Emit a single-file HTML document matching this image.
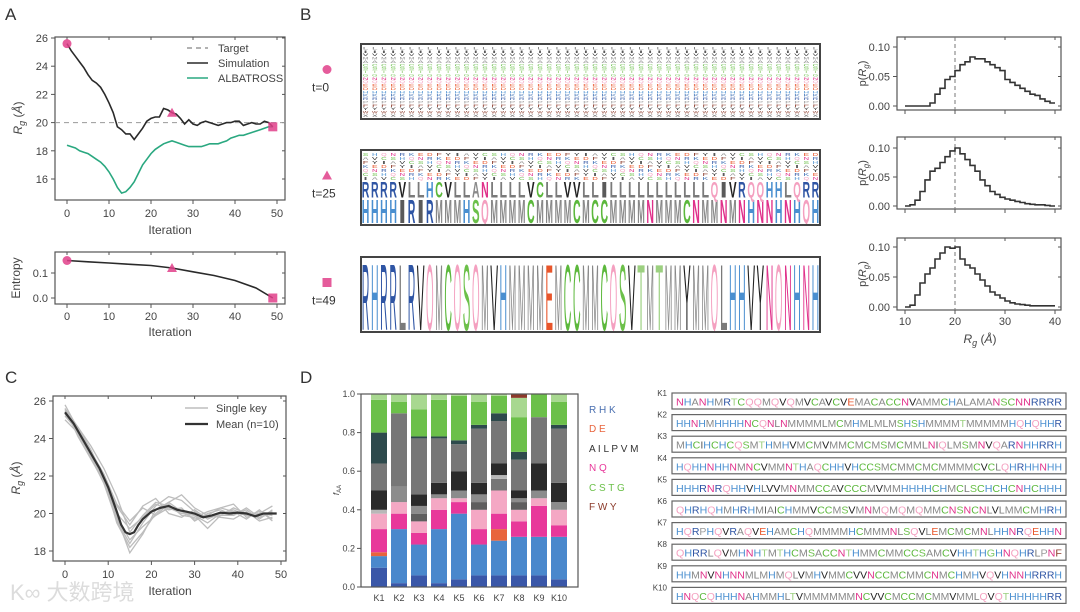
<!DOCTYPE html>
<html><head><meta charset="utf-8"><style>
html,body{margin:0;padding:0;background:#fff;}
svg{display:block;font-family:"Liberation Sans","Noto Sans CJK SC",sans-serif;}
</style></head><body>
<svg id="fig" width="1080" height="612" viewBox="0 0 1080 612" xmlns="http://www.w3.org/2000/svg"></svg>
<script>
// ---------- DATA ----------
const iters = Array.from({length:50},(_, i)=>i);
const simRg = [25.6,25.1,24.7,24.3,23.9,23.4,23.0,22.8,22.5,22.0,21.4,20.7,19.7,19.5,19.2,19.2,18.8,19.2,19.6,20.1,20.3,20.4,20.4,21.0,20.9,20.7,20.6,20.3,19.9,20.2,19.9,19.8,20.0,20.1,20.0,19.9,19.8,19.9,20.0,20.0,20.1,20.1,19.8,19.9,20.0,19.9,19.9,20.1,20.0,19.7];
const albRg = [18.4,18.3,18.2,18.0,17.9,17.8,17.6,17.4,17.2,16.9,16.5,16.0,15.4,15.0,15.1,15.4,15.8,16.4,17.0,17.4,17.8,18.1,18.3,18.5,18.6,18.7,18.6,18.5,18.4,18.3,18.3,18.3,18.3,18.4,18.5,18.5,18.5,18.6,18.7,18.9,19.0,19.1,19.1,19.2,19.3,19.4,19.5,19.6,19.7,19.7];
const targetRg = [20];
const entIters = [0,5,10,15,20,25,30,35,40,45,49];
const entropy = [0.15,0.145,0.14,0.135,0.13,0.12,0.105,0.09,0.07,0.04,0.0];
const markIters = [0,25,49];
const rgTicks = [16,18,20,22,24,26];
const iterTicks = [0,10,20,30,40,50];
const entTicks = [0.0,0.1];

const cIters = [0,3,6,9,12,15,18,21,24,27,30,33,36,39,42,45,48];
const key1 = [25.6,24.6,23.6,22.4,20.9,19.0,19.9,20.6,20.4,20.1,19.7,19.9,20.3,20.1,19.9,20.0,19.9];
const key2 = [25.3,24.3,23.0,21.6,19.6,18.4,19.5,20.4,20.9,20.7,20.1,19.8,19.9,20.3,20.0,19.8,20.1];
const key3 = [25.8,24.5,23.3,22.0,20.4,19.4,20.4,20.8,20.0,19.8,20.2,19.7,20.0,20.1,19.7,20.2,19.6];
const key4 = [25.5,24.2,23.1,21.8,19.8,18.6,19.3,19.9,20.3,20.0,19.9,19.2,19.9,19.9,20.2,19.7,20.2];
const key5 = [25.2,24.4,23.3,22.1,20.5,19.6,20.3,19.9,20.5,19.9,19.8,20.1,20.3,20.5,19.8,20.0,20.4];
const key6 = [25.4,24.6,23.4,21.9,19.5,18.2,19.0,20.0,20.6,21.0,20.3,19.9,19.8,19.7,20.1,19.6,19.8];
const key7 = [25.6,24.1,22.9,21.7,20.0,19.2,19.8,20.5,20.2,20.3,19.6,20.0,20.2,19.9,20.3,19.8,20.0];
const key8 = [25.0,24.3,23.2,22.0,19.8,17.9,18.9,20.2,20.6,20.1,19.9,19.5,20.0,20.2,19.9,20.1,19.7];
const meanIters = [0,2,4,6,8,10,12,13,14,15,16,17,18,20,22,24,26,28,30,32,34,36,38,40,42,44,46,48,49];
const meanRg = [25.4,24.8,24.0,23.2,22.4,21.4,20.1,19.4,19.0,18.9,19.0,19.4,19.7,20.1,20.3,20.4,20.2,20.1,20.0,19.8,19.9,20.05,20.0,20.05,20.0,19.85,20.0,20.0,20.0];
const cRgTicks = [18,20,22,24,26];

const histBins = [10,11,12,13,14,15,16,17,18,19,20,21,22,23,24,25,26,27,28,29,30,31,32,33,34,35,36,37,38,39];
const histT0 = [0,0,0,0,0,0.005,0.02,0.03,0.045,0.05,0.06,0.07,0.075,0.083,0.08,0.08,0.075,0.07,0.065,0.06,0.045,0.04,0.035,0.03,0.025,0.02,0.018,0.012,0.008,0.005];
const histT25 = [0,0.002,0.01,0.025,0.045,0.06,0.065,0.075,0.085,0.095,0.1,0.09,0.08,0.07,0.06,0.045,0.035,0.025,0.02,0.015,0.012,0.01,0.008,0.006,0.004,0.003,0.002,0.002,0.001,0];
const histT49 = [0,0.003,0.02,0.04,0.055,0.065,0.08,0.09,0.1,0.098,0.1,0.08,0.07,0.065,0.055,0.045,0.035,0.025,0.02,0.015,0.01,0.007,0.005,0.004,0.003,0.002,0.002,0.002,0.002,0.002];
const histYTicks = [0,0.05,0.10];
const histXTicks = [10,20,30,40];

const barCats = ['K1','K2','K3','K4','K5','K6','K7','K8','K9','K10'];
const barK1 = [['db',.10],['bl',.06],['or',.02],['mg',.12],['pk',.08],['lg',.02],['bk',.10],['mgy',.14],['te',.16],['gr',.17],['lgr',.03]];
const barK2 = [['db',.02],['bl',.28],['mg',.08],['pk',.06],['gy',.08],['mgy',.38],['gr',.06],['lgr',.04]];
const barK3 = [['db',.06],['bl',.16],['mg',.06],['pk',.06],['dg',.04],['gy',.04],['bk',.06],['mgy',.29],['te',.01],['gr',.14],['lgr',.08]];
const barK4 = [['db',.02],['bl',.28],['mg',.10],['pk',.06],['gy',.02],['bk',.06],['mgy',.23],['te',.01],['gr',.19],['lgr',.03]];
const barK5 = [['db',.04],['bl',.34],['mg',.06],['pk',.02],['gy',.04],['bk',.10],['mgy',.14],['te',.02],['gr',.23],['lgr',.01]];
const barK6 = [['db',.06],['bl',.16],['mg',.08],['pk',.10],['dg',.04],['gy',.04],['bk',.06],['mgy',.28],['te',.02],['gr',.12],['lgr',.04]];
const barK7 = [['db',.06],['bl',.18],['or',.06],['mg',.08],['pk',.12],['mgy',.06],['lg',.02],['bk',.06],['mgy',.22],['te',.04],['gr',.09],['lgr',.01]];
const barK8 = [['db',.06],['bl',.20],['mg',.08],['pk',.06],['dg',.04],['gy',.02],['bk',.04],['mgy',.16],['te',.04],['gr',.18],['lgr',.10],['br',.02]];
const barK9 = [['db',.06],['bl',.20],['mg',.16],['pk',.04],['gy',.04],['bk',.14],['mgy',.24],['gr',.12]];
const barK10 = [['db',.04],['bl',.22],['mg',.06],['pk',.08],['gy',.04],['bk',.10],['mgy',.28],['te',.02],['gr',.12],['lgr',.04]];
const barSegs = [barK1,barK2,barK3,barK4,barK5,barK6,barK7,barK8,barK9,barK10];
const barTicks = [0,0.2,0.4,0.6,0.8,1.0];

const seqK = [
'NHANHMRTCQQMQVQMVCAVCVEMACACCNVAMMCHALAMANSCNNRRRR',
'HHNHMHHHHNCQNLNMMMMLMCMHMLMLMSHSHMMMMTMMMMMHQHQHHR',
'MHCIHCHCQSMTHMHVMCMVMMCMCMSMCMMLNIQLMSMNVQARNHHRRH',
'HQHHNHHNMNCVMMNTHAQCHHVHCCSMCMMCMCMMMMCVCLQHRHHNHH',
'HHHRNRQHHVHLVVMNMMCCAVCCCMVMMHHHHCHMCLSCHCHCNHCHHH',
'QHRHQHMHRHMIAICHMMVCCMSVMNMQMQMQMMCNSNCNLVLMMCMHRH',
'HQRPHQVRAQVEHAMCHQMMMMHCMMMNLSQVLEMCMCMNLHHNRQEHHN',
'QHRRLQVMHNHTMTHCMSACCNTHMMCMMCCSAMCVHHTHGHNQHRLPNF',
'HHMNVNHNNMLMHMQLVMHVMMCVVNCCMCMMCNMCHMHVQVHNNHRRRH',
'HNQCQHHHNAHMMHLTVMMMMMMNCVVCMCCMCMMVMMLQVQTHHHHHRR'];
const t25Bottom = 'HHHHIRIRMMMHSQMMMMCMMMMCMCCMMMMNMMMCNMMNMNHNNHNHQH';
const t25Second = 'RRRRVLLHCVLLANLLLLVCLLVVLLILLLLLLLLLLLQIVRQQHHLQRR';
const t49Seq = 'RHRRLRVQMCQSQMVHMMMMEMCCMMCQSVTMTMMYMMQLHHVYNQNHNH';

// ---------- HELPERS ----------
const NS='http://www.w3.org/2000/svg';
const svg=document.getElementById('fig');
function mk(tag,attrs,parent){const e=document.createElementNS(NS,tag);for(const k in attrs)e.setAttribute(k,attrs[k]);(parent||svg).appendChild(e);return e;}
function lin(d0,d1,r0,r1){return v=>r0+(v-d0)*(r1-r0)/(d1-d0);}
function txt(x,y,s,opt,parent){const t=mk('text',Object.assign({x:x,y:y,'font-size':11,fill:'#444'},opt||{}),parent);t.textContent=s;return t;}
const AA_COL={R:'#2f55a4',H:'#4a8fd0',K:'#3b6fb5',D:'#e8552a',E:'#e8552a',A:'#8a8a8a',I:'#5a5a5a',L:'#7a7a7a',P:'#9a9a9a',V:'#222',M:'#888',N:'#e0308a',Q:'#f4a0c0',C:'#5cb83c',S:'#6cc04a',T:'#9cd080',G:'#7cc860',F:'#8b3a2a',W:'#8b3a2a',Y:'#222',X:'#555'};
const SEG_COL={db:'#3a57a8',bl:'#4a88cc',or:'#e8643c',mg:'#e8389a',pk:'#f4a8c4',lg:'#b8b8b8',gy:'#8c8c8c',dg:'#5e5e5e',bk:'#2a2a2a',mgy:'#777',te:'#2e4a4c',gr:'#6cc04a',lgr:'#a8d890',br:'#8b3a2a'};
const MARK='#e0408a';
const defs=mk('defs',{});

function frame(x0,y0,x1,y1,name){const r=mk('rect',{x:x0,y:y0,width:x1-x0,height:y1-y0,fill:'none',stroke:'#555','stroke-width':1.2});

return r;}
function yTicks(ticks,ys,x0,x1,fmt,name){ticks.forEach(v=>{const y=ys(v);
const l=mk('line',{x1:x0-4,y1:y,x2:x0,y2:y,stroke:'#555'});


const l2=mk('line',{x1:x1-3,y1:y,x2:x1,y2:y,stroke:'#555'});


const t=txt(x0-7,y+4,fmt(v),{'text-anchor':'end'});

});}
function xTicks(ticks,xs,y0,y1,ly,fmt,name){ticks.forEach(v=>{const x=xs(v);
const l=mk('line',{x1:x,y1:y1,x2:x,y2:y1+4,stroke:'#555'});


const l2=mk('line',{x1:x,y1:y0,x2:x,y2:y0+3,stroke:'#555'});


if(ly!==null){const t=txt(x,ly,fmt(v),{'text-anchor':'middle'});

}});}
function pathOf(xsArr,ysArr,xs,ys){return xsArr.map((v,i)=>(i?'L':'M')+xs(v).toFixed(1)+','+ys(ysArr[i]).toFixed(1)).join('');}
function rgLabel(x,y){const t=mk('text',{x:0,y:0,'font-size':12,fill:'#444','text-anchor':'middle',transform:`translate(${x},${y}) rotate(-90)`});
t.innerHTML='<tspan font-style="italic">R</tspan><tspan font-style="italic" font-size="9" dy="3">g</tspan><tspan dy="-3"> (</tspan><tspan font-style="italic">Å</tspan><tspan>)</tspan>';return t;}
function marker(kind,cx,cy,name){let e;
if(kind===0)e=mk('circle',{cx:cx,cy:cy,r:4.5,fill:MARK,opacity:.85});
else if(kind===1)e=mk('polygon',{points:`${cx},${cy-5} ${cx-5},${cy+4} ${cx+5},${cy+4}`,fill:MARK,opacity:.85});
else e=mk('rect',{x:cx-4.5,y:cy-4.5,width:9,height:9,fill:MARK,opacity:.85});

return e;}

// ---------- PANEL LABELS ----------
[['A',5,20],['B',300,20],['C',5,383],['D',300,383]].forEach(p=>{const t=txt(p[1],p[2],p[0],{'font-size':17,fill:'#333'});

});

// ---------- PANEL A ----------
{const xs=lin(0,50,67,277), ys=lin(16,26,179,38);
frame(55,37,285,200,'panel-a-rg-frame');
yTicks(rgTicks,ys,55,285,v=>String(v),'panel-a-y');
xTicks(iterTicks,xs,37,200,217,v=>String(v),'panel-a-x');
const xl=txt(170,234,'Iteration',{'text-anchor':'middle','font-size':12});


const yl=rgLabel(22,118);


const tg=mk('line',{x1:55,x2:285,y1:ys(targetRg[0]),y2:ys(targetRg[0]),stroke:'#999','stroke-dasharray':'5,4'});


const al=mk('path',{d:pathOf(iters,albRg,xs,ys),fill:'none',stroke:'#2aa880','stroke-width':1.6});


const sm=mk('path',{d:pathOf(iters,simRg,xs,ys),fill:'none',stroke:'#2a2a2a','stroke-width':1.6});


markIters.forEach((it,k)=>marker(k,xs(it),ys(simRg[it]),'rg-marker-t'+it));
const lg=[['Target','#999','5,4',52],['Simulation','#2a2a2a','',67],['ALBATROSS','#2aa880','',82]];
lg.forEach(e=>{const l=mk('line',{x1:187,x2:208,y1:e[3]-4,y2:e[3]-4,stroke:e[1],'stroke-width':1.6,'stroke-dasharray':e[2]});


const t=txt(218,e[3],e[0],{'font-size':11});

});}
{const xs=lin(0,50,67,277), ys=lin(0,0.1,298,273);
frame(55,252,285,304,'panel-a-entropy-frame');
yTicks(entTicks,ys,55,285,v=>v.toFixed(1),'entropy-y');
xTicks(iterTicks,xs,252,304,320,v=>String(v),'entropy-x');
const xl=txt(170,336,'Iteration',{'text-anchor':'middle','font-size':12});


const yl=txt(0,0,'Entropy',{'text-anchor':'middle','font-size':12,transform:'translate(20,278) rotate(-90)'});


const en=mk('path',{d:pathOf(entIters,entropy,xs,ys),fill:'none',stroke:'#2a2a2a','stroke-width':1.6});


markIters.forEach((it,k)=>{const j=entIters.indexOf(it);let v=j>=0?entropy[j]:0.12;marker(k,xs(it),ys(v),'entropy-marker-t'+it);});}

// ---------- PANEL B: LOGOS ----------
const LX0=361,LX1=820,colW=(LX1-LX0)/50;
function bigLetter(ch,x,yb,h,w,g,name,bold){const sy=h/7.16;const t=mk('text',{x:0,y:0,'font-size':10,'font-weight':bold?'bold':'normal',fill:AA_COL[ch]||'#555',textLength:w,lengthAdjust:'spacingAndGlyphs',transform:`translate(${x.toFixed(2)},${yb.toFixed(2)}) scale(1,${sy.toFixed(3)})`},g);t.textContent=ch;

return t;}
[['t=0',44,119,0],['t=25',150,225,1],['t=49',257,332,2]].forEach(b=>{
const cp=mk('clipPath',{id:'clip'+b[3]},defs);
mk('rect',{x:LX0,y:b[1],width:LX1-LX0,height:b[2]-b[1]},cp);
const g=mk('g',{'clip-path':'url(#clip'+b[3]+')'});


const mcy=(b[1]+b[2])/2-12;marker(b[3],327,mcy,'logo-marker-'+b[0].replace('=',''));
const lt=txt(312,mcy+22,b[0],{'font-size':12,fill:'#333'});


const bottom=b[2]-2, H=b[2]-b[1]-4;
for(let c=0;c<50;c++){const x=LX0+c*colW+0.8,w=colW-1.6;
 if(b[3]===0){const order='XWYFPRKHDEQNGTSCAMVIL';let y=bottom;const hh=H/order.length;
  for(let k=0;k<order.length;k++){bigLetter(order[k],x+1,y,hh*0.7,w-2,g,'logo-t0-letter',false);y-=hh;}}
 else if(b[3]===1){let y=bottom;const h1=H*0.34,h2=H*0.22;
  bigLetter(t25Bottom[c],x,y,h1,w,g,'logo-t25-letter',true);y-=h1+1.5;
  bigLetter(t25Second[c],x,y,h2,w,g,'logo-t25-letter',true);y-=h2+1.5;
  const rest='IAVCSHQNRKEDFY';const hh=(y-b[1]-2)/7;
  for(let k=0;k<7;k++){bigLetter(rest[(c+k*3)%rest.length],x+1,y,hh*0.75,w-2,g,'logo-t25-letter',false);y-=hh;}}
 else{bigLetter(t49Seq[c],x,bottom,H-4,w,g,'logo-t49-letter',false);}}
const fr=mk('rect',{x:LX0,y:b[1],width:LX1-LX0,height:b[2]-b[1],fill:'none',stroke:'#444','stroke-width':2});

});

// ---------- PANEL B: HISTOGRAMS ----------
[[histT0,37,110,47,106],[histT25,137,209,148,206],[histT49,238,310,247,307]].forEach((h,k)=>{
const xs=lin(10,40,905,1055), ys=lin(0,0.1,h[4],h[3]);
frame(897,h[1],1061,h[2],'hist-frame-'+k);
yTicks(histYTicks,ys,897,1061,v=>v.toFixed(2),'hist-'+k+'-y');
xTicks(histXTicks,xs,h[1],h[2],k===2?325:null,v=>String(v),'hist-'+k+'-x');
const dl=mk('line',{x1:xs(20),x2:xs(20),y1:h[1],y2:h[2],stroke:'#777','stroke-dasharray':'4,3'});


let d='';h[0].forEach((v,i)=>{const x0=xs(histBins[i]),x1=xs(histBins[i]+1),y=ys(v);d+=(i?'L':'M')+x0.toFixed(1)+','+y.toFixed(1)+'L'+x1.toFixed(1)+','+y.toFixed(1);});
const p=mk('path',{d:d,fill:'none',stroke:'#333','stroke-width':1.6});


const yl=mk('text',{x:0,y:0,'font-size':11,fill:'#444','text-anchor':'middle',transform:`translate(866,${(h[1]+h[2])/2}) rotate(-90)`});
yl.innerHTML='p(<tspan font-style="italic">R</tspan><tspan font-style="italic" font-size="8" dy="3">g</tspan><tspan dy="-3">)</tspan>';

});
{const t=mk('text',{x:980,y:343,'font-size':12,fill:'#444','text-anchor':'middle'});
t.innerHTML='<tspan font-style="italic">R</tspan><tspan font-style="italic" font-size="9" dy="3">g</tspan><tspan dy="-3"> (</tspan><tspan font-style="italic">Å</tspan>)';

}

// ---------- PANEL C ----------
{const xs=lin(0,50,65,281), ys=lin(18,26,551,401);
frame(53,396,286,561,'panel-c-frame');
yTicks(cRgTicks,ys,53,286,v=>String(v),'panel-c-y');
xTicks(iterTicks,xs,396,561,578,v=>String(v),'panel-c-x');
const xl=txt(170,595,'Iteration',{'text-anchor':'middle','font-size':12});


const yl=rgLabel(20,478);


[key1,key2,key3,key4,key5,key6,key7,key8].forEach((k,i)=>{const p=mk('path',{d:pathOf(cIters,k,xs,ys),fill:'none',stroke:'#bdbdbd','stroke-width':1.3});

});
const m=mk('path',{d:pathOf(meanIters,meanRg,xs,ys),fill:'none',stroke:'#333','stroke-width':2.2});


[['Single key','#bdbdbd',1.5,412],['Mean (n=10)','#333',2.2,428]].forEach(e=>{const l=mk('line',{x1:185,x2:208,y1:e[3]-4,y2:e[3]-4,stroke:e[1],'stroke-width':e[2]});


const t=txt(216,e[3],e[0],{'font-size':11});

});
const wm=txt(10,600,'K∞ 大数跨境',{'font-size':22,fill:'#dcdcdc'});

}

// ---------- PANEL D: BARS ----------
{const ys=lin(0,1,587,394), xc=i=>379+i*20;
barSegs.forEach((segs,i)=>{let acc=0;segs.forEach(s=>{const r=mk('rect',{x:xc(i)-8,y:ys(acc+s[1]),width:16,height:ys(acc)-ys(acc+s[1]),fill:SEG_COL[s[0]]});

acc+=s[1];});
const t=txt(xc(i),601,barCats[i],{'text-anchor':'middle','font-size':9});

});
frame(361,394,578,587,'bar-frame');
barTicks.forEach(v=>{const y=ys(v);const l=mk('line',{x1:357,x2:361,y1:y,y2:y,stroke:'#555'});


const t=txt(355,y+3,v.toFixed(1),{'text-anchor':'end','font-size':9});

});
const yl=mk('text',{x:0,y:0,'font-size':8,fill:'#444','text-anchor':'middle',transform:'translate(339,490) rotate(-90)'});
yl.innerHTML='<tspan font-style="italic">f</tspan><tspan font-size="6" dy="2">AA</tspan>';


[['R H K','#4a6fb0',413],['D E','#e8643c',432],['A I L P V M','#333',452],['N Q','#e8389a',471],['C S T G','#6cc04a',491],['F W Y','#8b3a2a',510]].forEach(e=>{const t=txt(589,e[2],e[0],{'font-size':10,fill:e[1]});

});}

// ---------- PANEL D: SEQUENCES ----------
seqK.forEach((s,i)=>{const y0=393+i*21.6;
const r=mk('rect',{x:672,y:y0,width:394,height:16,fill:'#fff',stroke:'#666','stroke-width':1.2});


const lb=txt(667,y0+3,'K'+(i+1),{'font-size':8,'text-anchor':'end'});


const t=mk('text',{x:676,y:y0+12.5,'font-size':10.5,textLength:386,lengthAdjust:'spacingAndGlyphs'});
t.innerHTML=s.split('').map(ch=>`<tspan fill="${AA_COL[ch]||'#777'}">${ch}</tspan>`).join('');

});
</script>
</body></html>
